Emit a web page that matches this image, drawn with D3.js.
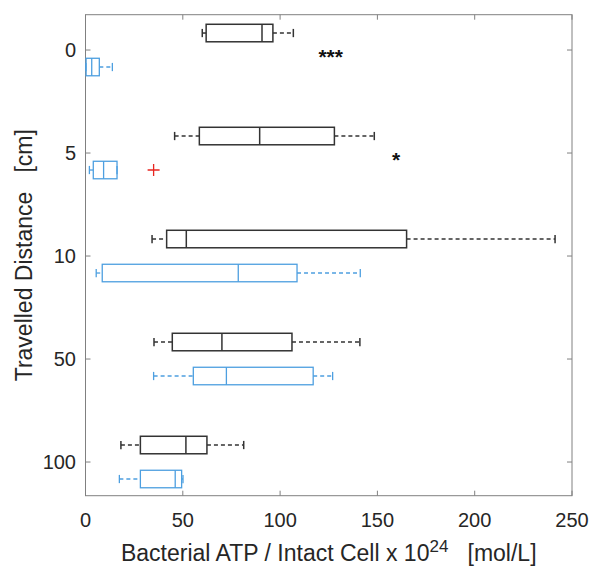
<!DOCTYPE html>
<meta charset="utf-8">
<style>
  body { margin: 0; background: #fff; }
  text { font-family: "Liberation Sans", Arial, sans-serif; fill: #262626; }
</style>
<svg width="592" height="567"></svg>
<script src="https://cdn.jsdelivr.net/npm/d3@7"></script>
<script>
const categories = ["0", "5", "10", "50", "100"];

// [whisker low, q1, median, q3, whisker high]
const blackStats = [
  [60, 62, 90.7, 96.3, 106.8],
  [45.8, 58.5, 89.5, 127.9, 148.4],
  [34.2, 41.7, 51.8, 165, 241.3],
  [35.2, 44.6, 70.1, 106.1, 141],
  [18.2, 28.2, 51.6, 62.4, 81.3]
];
const blueStats = [
  [0.2, 0.3, 3.2, 7.1, 13.8],
  [2, 4, 9.3, 16.2, 16.2],
  [5.5, 8.6, 78.5, 108.7, 141.2],
  [35, 55.4, 72.4, 117, 127],
  [17.4, 28.2, 46.1, 49.4, 50.1]
];
const blueOutliers = [[1, 35]];   // [category index, value]
const stars = [[0, 126, "***"], [1, 159.6, "*"]];  // [category index, x value, label]

const xTicks = [0, 50, 100, 150, 200, 250];

const svg = d3.select("svg");
const mLeft = 85.5, mRight = 572, mTop = 14.7, mBottom = 495.7;

const x = d3.scaleLinear().domain([0, 250]).range([mLeft, mRight]);
const y = d3.scaleLinear().domain([0.657, 5.327]).range([mTop, mBottom]);

const off = 0.165, half = 0.085, cap = 0.04;

// frame
svg.append("rect")
  .attr("x", mLeft).attr("y", mTop)
  .attr("width", mRight - mLeft).attr("height", mBottom - mTop)
  .attr("fill", "none").attr("stroke", "#808080").attr("stroke-width", 1);

// ticks (inward on all four sides)
const tk = 5;
xTicks.forEach(v => {
  svg.append("line").attr("x1", x(v)).attr("x2", x(v)).attr("y1", mBottom).attr("y2", mBottom - tk).attr("stroke", "#808080");
  svg.append("line").attr("x1", x(v)).attr("x2", x(v)).attr("y1", mTop).attr("y2", mTop + tk).attr("stroke", "#808080");
  svg.append("text").attr("x", x(v)).attr("y", 527).attr("text-anchor", "middle")
    .attr("font-size", 20).text(v);
});
categories.forEach((c, i) => {
  svg.append("line").attr("x1", mLeft).attr("x2", mLeft + tk).attr("y1", y(i + 1)).attr("y2", y(i + 1)).attr("stroke", "#808080");
  svg.append("line").attr("x1", mRight).attr("x2", mRight - tk).attr("y1", y(i + 1)).attr("y2", y(i + 1)).attr("stroke", "#808080");
  svg.append("text").attr("x", 76).attr("y", y(i + 1) + 7).attr("text-anchor", "end")
    .attr("font-size", 20).text(c);
});

function drawBoxes(stats, pos, color, width) {
  const g = svg.append("g");
  stats.forEach((s, i) => {
    const cy = y(i + 1 + pos);
    const h = y(i + 1 + half) - y(i + 1);
    const c = y(i + 1 + cap) - y(i + 1);
    // whiskers
    g.append("line").attr("x1", x(s[0])).attr("x2", x(s[1])).attr("y1", cy).attr("y2", cy)
      .attr("stroke", color).attr("stroke-width", width).attr("stroke-dasharray", "4,3");
    g.append("line").attr("x1", x(s[3])).attr("x2", x(s[4])).attr("y1", cy).attr("y2", cy)
      .attr("stroke", color).attr("stroke-width", width).attr("stroke-dasharray", "4,3");
    [s[0], s[4]].forEach(v => {
      g.append("line").attr("x1", x(v)).attr("x2", x(v)).attr("y1", cy - c).attr("y2", cy + c)
        .attr("stroke", color).attr("stroke-width", width);
    });
    g.append("rect").attr("x", x(s[1])).attr("y", cy - h)
      .attr("width", x(s[3]) - x(s[1])).attr("height", 2 * h)
      .attr("fill", "none").attr("stroke", color).attr("stroke-width", width);
    g.append("line").attr("x1", x(s[2])).attr("x2", x(s[2])).attr("y1", cy - h).attr("y2", cy + h)
      .attr("stroke", color).attr("stroke-width", width);
  });
}

drawBoxes(blackStats, -off, "#333333", 1.5);
drawBoxes(blueStats, off, "#4d9fe0", 1.3);

// outliers
blueOutliers.forEach(([i, v]) => {
  const cy = y(i + 1 + off);
  svg.append("path")
    .attr("d", `M${x(v) - 6},${cy}H${x(v) + 6}M${x(v)},${cy - 6}V${cy + 6}`)
    .attr("stroke", "#e8251f").attr("stroke-width", 1.3);
});

// significance marks
stars.forEach(([i, v, s]) => {
  svg.append("text").attr("x", x(v)).attr("y", y(i + 1) + 14)
    .attr("text-anchor", "middle").attr("font-size", 21).attr("font-weight", "bold")
    .style("fill", "#111").text(s);
});

// axis titles
const xt = svg.append("text").attr("x", (mLeft + mRight) / 2).attr("y", 561)
  .attr("text-anchor", "middle").attr("font-size", 23);
xt.append("tspan").text("Bacterial ATP / Intact Cell x 10");
xt.append("tspan").attr("dy", -9).attr("font-size", 17).text("24");
xt.append("tspan").attr("dy", 9).text("\u00a0\u00a0\u00a0[mol/L]");

svg.append("text")
  .attr("transform", `translate(32,${(mTop + mBottom) / 2}) rotate(-90)`)
  .attr("text-anchor", "middle").attr("font-size", 23)
  .text("Travelled Distance\u00a0\u00a0\u00a0[cm]");
</script>
